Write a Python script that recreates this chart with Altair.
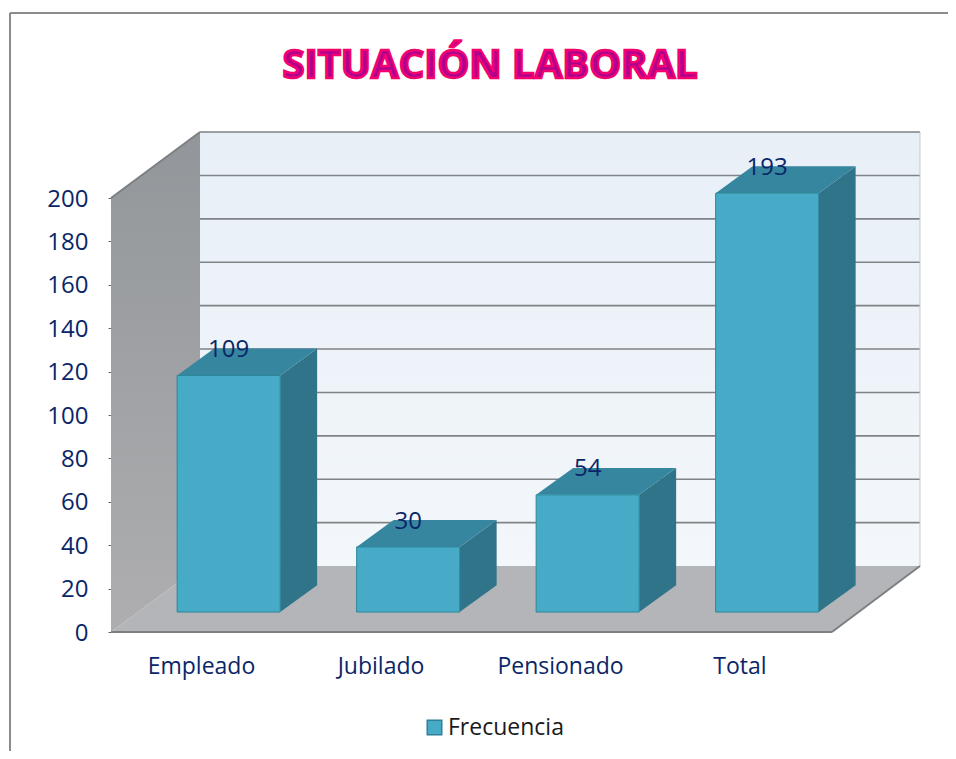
import json
import altair as alt
import pandas as pd

title_text = "SITUACIÓN LABORAL"
categories = ["Empleado", "Jubilado", "Pensionado", "Total"]
frecuencia = [109, 30, 54, 193]
y_ticks = [0, 20, 40, 60, 80, 100, 120, 140, 160, 180, 200]
series_name = "Frecuencia"

W, H = 940, 743
X_UNIT, X_ZERO = 179.5, 193.0      # px per category, px of category 0 inside the view
Y_UNIT, Y_ZERO = 2.17, 624.0       # px per value unit, px of value 0 inside the view
x_dom = [-X_ZERO / X_UNIT, (W - X_ZERO) / X_UNIT]
y_dom = [(Y_ZERO - H) / Y_UNIT, Y_ZERO / Y_UNIT]

WALL_LEFT = -0.5014
WALL_BACK_LEFT = -0.0056
WALL_BACK_RIGHT = 4.0056
FLOOR_RIGHT = 3.515
WALL_DX = WALL_BACK_LEFT - WALL_LEFT
WALL_DY = 30.4
Y_MAX = 200
BAR_CENTER = 0.154
BAR_HALF = 0.287
BAR_DX = 0.206
BAR_DY = 12.4
BAR_BASE = 9.2

FONT = "Open Sans"
NAVY = "#0a2668"


def xy(x="x", y="y", axes=True):
    return dict(
        x=alt.X(f"{x}:Q", scale=alt.Scale(domain=x_dom, nice=False, zero=False), axis=x_axis, title=None),
        y=alt.Y(f"{y}:Q", scale=alt.Scale(domain=y_dom, nice=False, zero=False), axis=y_axis, title=None),
    )


x_axis = alt.Axis(
    values=[0, 1, 2, 3],
    labelExpr=json.dumps(categories) + "[datum.value]",
    orient="bottom", offset=-104, grid=False, domain=False, ticks=False,
    labelPadding=8, labelFont=FONT, labelFontSize=23, labelColor=NAVY, labelFlush=False,
    labelOverlap=False, title=None,
)
y_axis = alt.Axis(
    values=y_ticks, format="d",
    orient="left", offset=-103, grid=False, domain=False, ticks=True, tickSize=3,
    tickColor="#666666", labelPadding=20, labelFont=FONT, labelFontSize=24, labelColor=NAVY,
    labelOffset=1, labelFlush=False, labelOverlap=False, title=None,
)


def grad(c1, c2, horizontal=False):
    return {
        "gradient": "linear",
        "stops": [{"offset": 0, "color": c1}, {"offset": 1, "color": c2}],
        "x1": 0, "y1": 0, "x2": 1 if horizontal else 0, "y2": 0 if horizontal else 1,
    }


# frame lines
FRAME_X = -1.0641
FRAME_Y = 285.3
frame = pd.DataFrame({
    "x": [FRAME_X, FRAME_X],
    "y": [y_dom[0], FRAME_Y],
    "x2": [FRAME_X, x_dom[1]],
    "y2": [FRAME_Y, FRAME_Y],
})
frame_l = alt.Chart(frame).mark_rule(color="#8c8c8c", strokeWidth=2).encode(
    **xy(), x2="x2:Q", y2="y2:Q")

# back wall
wall = pd.DataFrame({"x": [WALL_BACK_LEFT], "x2": [WALL_BACK_RIGHT],
                     "y": [Y_MAX + WALL_DY], "y2": [WALL_DY]})
wall_l = alt.Chart(wall).mark_rect(fill=grad("#e8eff7", "#f3f7fb")).encode(
    **xy(), x2="x2:Q", y2="y2:Q")

# gridlines on the back wall
grid = pd.DataFrame({"y": [t + WALL_DY for t in y_ticks if t > 0],
                     "x": WALL_BACK_LEFT, "x2": WALL_BACK_RIGHT})
grid_l = alt.Chart(grid).mark_rule(color="#7f8386", strokeWidth=1.6).encode(**xy(), x2="x2:Q")

# right edge of back wall
edge_r = pd.DataFrame({"x": [WALL_BACK_RIGHT], "y": [WALL_DY], "y2": [Y_MAX + WALL_DY]})
edge_r_l = alt.Chart(edge_r).mark_rule(color="#c4c8cc", strokeWidth=1).encode(**xy(), y2="y2:Q")

# left wall
left = pd.DataFrame({"x": [WALL_LEFT, WALL_BACK_LEFT], "y": [0, WALL_DY],
                     "y2": [Y_MAX, Y_MAX + WALL_DY]})
left_l = alt.Chart(left).mark_area(fill=grad("#92969a", "#aeaeb0")).encode(**xy(), y2="y2:Q")

# floor
floor = pd.DataFrame({"y": [0, WALL_DY], "x": [WALL_LEFT, WALL_BACK_LEFT],
                      "x2": [FLOOR_RIGHT, WALL_BACK_RIGHT]})
floor_l = alt.Chart(floor).mark_area(orient="horizontal", color="#b3b5b8").encode(**xy(), x2="x2:Q")

# structural edges
edges = pd.DataFrame({
    "x": [WALL_LEFT, FLOOR_RIGHT, WALL_LEFT],
    "y": [0, 0, Y_MAX],
    "x2": [FLOOR_RIGHT, WALL_BACK_RIGHT, WALL_BACK_LEFT],
    "y2": [0, WALL_DY, Y_MAX + WALL_DY],
})
edges_l = alt.Chart(edges).mark_rule(color="#7d8083", strokeWidth=2).encode(**xy(), x2="x2:Q", y2="y2:Q")

# bars
rows_front, rows_side, rows_top = [], [], []
for i, (c, v) in enumerate(zip(categories, frecuencia)):
    x0, x1 = i + BAR_CENTER - BAR_HALF, i + BAR_CENTER + BAR_HALF
    y0, y1 = BAR_BASE, BAR_BASE + v
    rows_front.append({"cat": c, "serie": series_name, "x": x0, "x2": x1, "y": y0, "y2": y1,
                       "lx": i + BAR_CENTER, "ly": y1 + BAR_DY, "v": v})
    rows_side += [{"cat": c, "x": x1, "y": y0, "y2": y1},
                  {"cat": c, "x": x1 + BAR_DX, "y": y0 + BAR_DY, "y2": y1 + BAR_DY}]
    rows_top += [{"cat": c, "y": y1, "x": x0, "x2": x1},
                 {"cat": c, "y": y1 + BAR_DY, "x": x0 + BAR_DX, "x2": x1 + BAR_DX}]

front = pd.DataFrame(rows_front)
side_l = alt.Chart(pd.DataFrame(rows_side)).mark_area(color="#2f7489").encode(
    **xy(), y2="y2:Q", detail="cat:N")
top_l = alt.Chart(pd.DataFrame(rows_top)).mark_area(orient="horizontal", color="#37869f").encode(
    **xy(), x2="x2:Q", detail="cat:N")
front_l = alt.Chart(front).mark_rect(stroke="#2c8899", strokeWidth=1).encode(
    **xy(), x2="x2:Q", y2="y2:Q",
    color=alt.Color("serie:N",
                    scale=alt.Scale(domain=[series_name], range=["#47abc7"]),
                    legend=alt.Legend(
                        orient="none", legendX=415, legendY=708, title=None,
                        symbolType="square", symbolSize=210, symbolStrokeColor="#2f7f96",
                        symbolStrokeWidth=1.5, labelFont=FONT, labelFontSize=23,
                        labelColor="#1a1a1a", labelOffset=2, padding=0)),
)
labels_l = alt.Chart(front).mark_text(font=FONT, fontSize=24, color=NAVY, baseline="middle", dy=1.5).encode(
    **xy("lx", "ly"), text="v:Q")

# title
title_l = alt.Chart(pd.DataFrame({"t": [title_text]})).mark_text(
    font=FONT, fontSize=40, fontWeight="bold", fill="#b0008f", stroke="#f5006f", strokeWidth=2.4,
    align="center", baseline="middle",
).encode(x=alt.value(482), y=alt.value(58), text="t:N")

chart = alt.layer(
    frame_l, wall_l, grid_l, edge_r_l, left_l, floor_l, edges_l,
    side_l, top_l, front_l, labels_l, title_l,
).properties(
    width=W, height=H, padding=0, autosize=alt.AutoSizeParams(type="none"),
    background="white",
).configure_view(stroke=None)

chart.save("out.html", embed_options={"renderer": "svg", "actions": False})
